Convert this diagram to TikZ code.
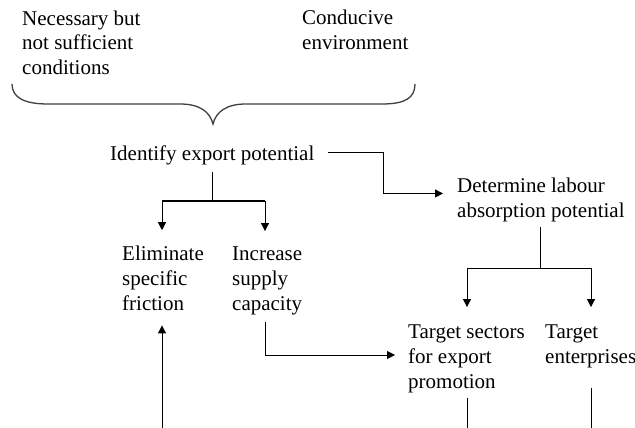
\documentclass[tikz,border=0pt]{standalone}
\usepackage{fontspec}
\setmainfont{Liberation Serif}
\usetikzlibrary{arrows.meta,calc}
\begin{document}
\begin{tikzpicture}[x=1pt,y=-1pt,
  lbl/.style={anchor=base west,inner sep=0pt,align=left,font=\fontsize{21}{25}\selectfont},
  conn/.style={line width=1pt},
  bar/.style={line width=2pt},
  arr/.style={conn,-{Triangle[length=8pt,width=8pt]}},
  brace/.style={line width=1.3pt,draw=black!75}]
\useasboundingbox (0,0) rectangle (635,428);
\fill[white] (0,0) rectangle (635,428);

% base anchor = baseline of the last line
\node[lbl] (nec) at (22,75) {Necessary but\\not sufficient\\conditions};
\node[lbl] (cond) at (302,50) {Conducive\\environment};
\node[lbl] (iden) at (110,160) {Identify export potential};
\node[lbl] (det) at (457,217) {Determine labour\\absorption potential};
\node[lbl] (elim) at (122,310) {Eliminate\\specific\\friction};
\node[lbl] (incr) at (232,310) {Increase\\supply\\capacity};
\node[lbl] (tsec) at (408,388) {Target sectors\\for export\\promotion};
\node[lbl] (tent) at (545,363) {Target\\enterprises};

% brace
\draw[brace] (12,84) .. controls (12,98) and (25,104) .. (48,104) -- (180,104)
  .. controls (200,104) and (210,112) .. (213,124)
  .. controls (216,112) and (226,104) .. (246,104) -- (382,104)
  .. controls (405,104) and (415,98) .. (415,84);

% coordinates
\coordinate (jL) at (162,201);
\coordinate (jR) at (265,201);
\coordinate (kL) at (467,268);
\coordinate (kR) at (591,268);
\coordinate (c2) at (265,355);
\coordinate (b1) at (162,428);
\coordinate (bS) at (467,428);
\coordinate (bE) at (591,428);

% identify -> eliminate / increase
\draw[conn] ($(iden.south)+(0,7)$) -- (iden.south |- jL);
\draw[bar] (jL) -- (jR);
\draw[arr,shorten >=15pt] (jL) -- (jL |- elim.north);
\draw[arr,shorten >=15pt] (jR) -- (jR |- incr.north);

% identify -> determine
\draw[arr] ($(iden.east)+(13,-2)$) -- ++(56,0) |- ($(det.west)+(-14,-6)$);

% determine -> targets
\draw[conn] ($(det.south)+(0,5)$) -- (det.south |- kL);
\draw[conn] (kL) -- (kR);
\draw[arr,shorten >=17pt] (kL) -- (kL |- tsec.north);
\draw[arr,shorten >=17pt] (kR) -- (kR |- tent.north);

% capacity -> target sectors
\draw[arr] ($(c2 |- incr.south)+(0,7)$) -- (c2) -- ($(c2 -| tsec.west)+(-13,0)$);

% bottom up to friction
\draw[arr,shorten >=15pt] (b1) -- (b1 |- elim.south);

% bottom lines
\draw[conn] ($(bS |- tsec.south)+(0,5)$) -- (bS);
\draw[conn] ($(bE |- tent.south)+(0,20)$) -- (bE);
\end{tikzpicture}
\end{document}
